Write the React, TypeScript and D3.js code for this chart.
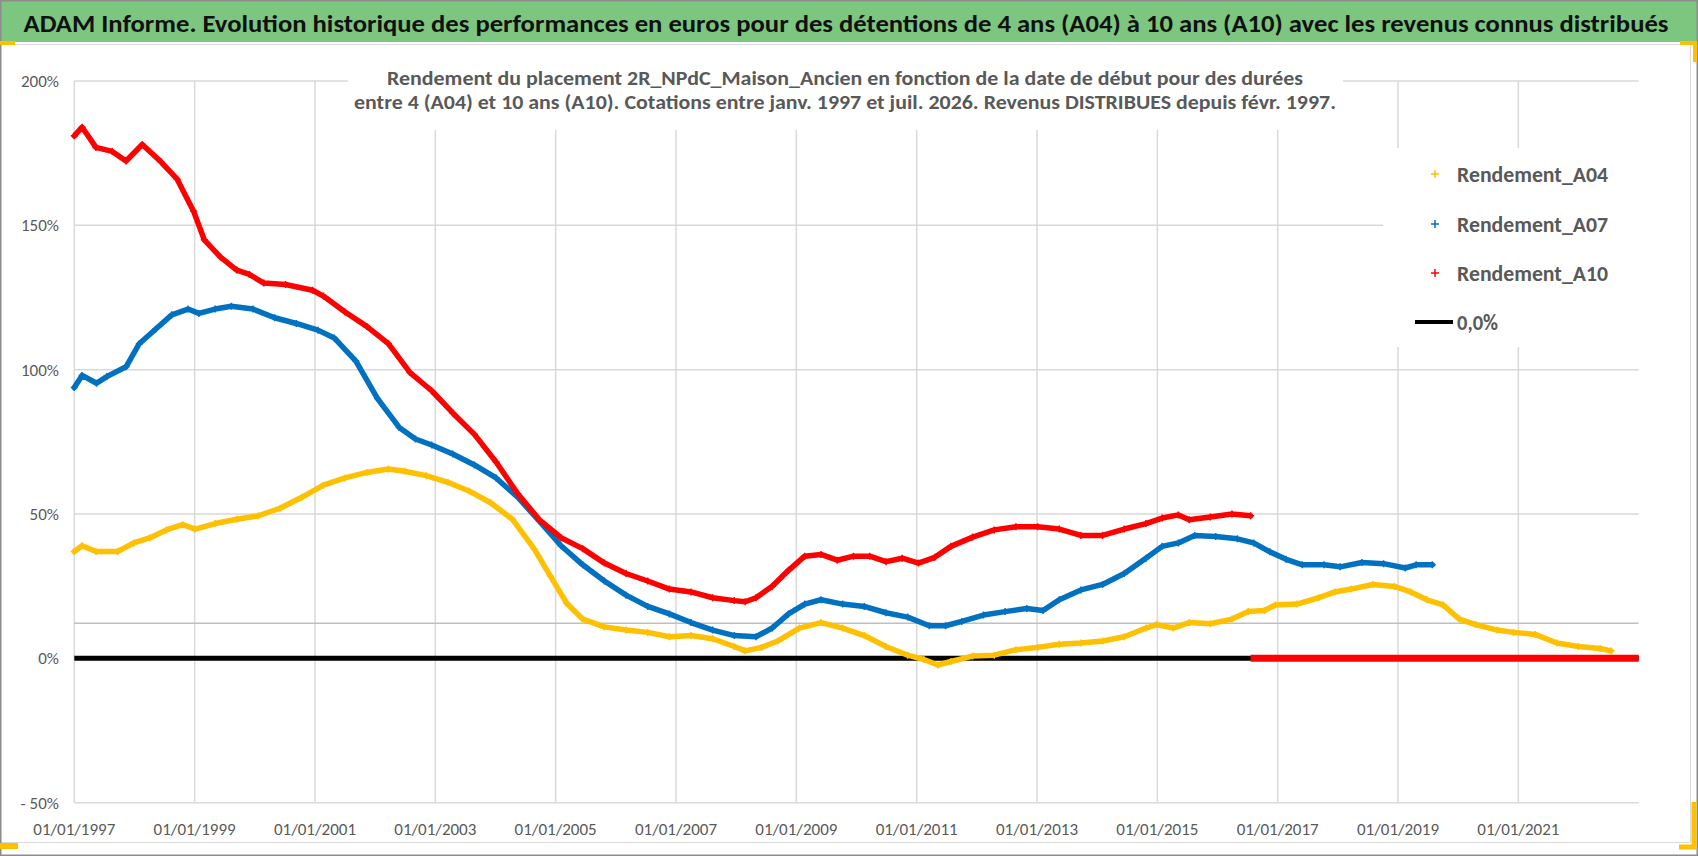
import React, { useEffect, useRef } from 'react';
import * as d3 from 'd3';

const WIDTH = 1698;
const HEIGHT = 856;

// x values are years since 01/01/1997, y values are in %
const a04Offsets = [0, 0.13, 0.36, 0.72, 0.99, 1.26, 1.53, 1.8, 2.01, 2.34, 2.7, 3.06, 3.42, 3.78, 4.14, 4.5, 4.86, 5.22, 5.49, 5.85, 6.21, 6.56, 6.92, 7.28, 7.64, 7.91, 8.18, 8.45, 8.81, 9.17, 9.53, 9.89, 10.25, 10.61, 10.97, 11.15, 11.42, 11.69, 12.05, 12.41, 12.77, 13.13, 13.49, 13.85, 14.12, 14.35, 14.57, 14.93, 15.29, 15.65, 16.01, 16.37, 16.73, 17.09, 17.45, 17.81, 17.99, 18.26, 18.53, 18.88, 19.24, 19.51, 19.78, 19.96, 20.32, 20.68, 20.95, 21.22, 21.58, 21.94, 22.21, 22.48, 22.75, 23.02, 23.29, 23.65, 23.92, 24.28, 24.64, 25.0, 25.36, 25.54];
const a04Values = [37, 39, 37, 37, 40, 41.8, 44.5, 46.3, 44.8, 46.7, 48.2, 49.4, 52, 55.8, 60, 62.5, 64.4, 65.6, 64.8, 63.3, 61, 58, 53.9, 48.2, 38, 28.6, 19.2, 13.6, 10.9, 9.8, 9, 7.5, 7.9, 6.8, 4.1, 2.6, 3.8, 6, 10.5, 12.4, 10.5, 7.9, 4.1, 1.1, -0.4, -2.3, -1.1, 0.8, 1.1, 3, 3.8, 4.9, 5.3, 6, 7.5, 10.5, 11.7, 10.5, 12.4, 12, 13.6, 16.2, 16.6, 18.5, 18.8, 21, 23, 24, 25.6, 24.9, 23, 20.3, 18.5, 13.6, 11.7, 9.8, 9, 8.3, 5.3, 4.1, 3.4, 2.6];

const a07Offsets = [0, 0.13, 0.37, 0.54, 0.86, 1.08, 1.35, 1.62, 1.89, 2.07, 2.34, 2.61, 2.97, 3.33, 3.69, 4.05, 4.32, 4.68, 5.04, 5.4, 5.67, 5.94, 6.29, 6.65, 7.01, 7.37, 7.73, 8.09, 8.45, 8.81, 9.17, 9.53, 9.89, 10.25, 10.61, 10.97, 11.33, 11.6, 11.87, 12.14, 12.41, 12.77, 13.13, 13.49, 13.85, 14.21, 14.48, 14.75, 15.11, 15.47, 15.83, 16.1, 16.37, 16.73, 17.09, 17.45, 17.81, 18.08, 18.35, 18.62, 18.97, 19.33, 19.6, 19.87, 20.14, 20.41, 20.77, 21.04, 21.4, 21.76, 22.12, 22.3, 22.57];
const a07Values = [93.8, 98, 95.3, 97.6, 101, 109, 114, 119, 121, 119.5, 121, 122, 121, 118, 116, 113.7, 111, 103, 90, 80, 76, 73.9, 70.8, 67, 62.5, 55.8, 47.5, 39, 32.4, 26.8, 21.9, 18, 15.4, 12.4, 9.8, 7.9, 7.5, 10.5, 15.4, 18.8, 20.3, 18.8, 18, 15.8, 14.3, 11.3, 11.3, 12.8, 15, 16.2, 17.3, 16.6, 20.3, 23.7, 25.6, 29.4, 34.7, 38.8, 40, 42.6, 42.2, 41.4, 40, 36.9, 34.3, 32.4, 32.4, 31.7, 33.2, 32.8, 31.3, 32.4, 32.4];

const a10Offsets = [0, 0.13, 0.36, 0.63, 0.86, 1.13, 1.44, 1.71, 1.98, 2.16, 2.43, 2.7, 2.91, 3.15, 3.51, 3.96, 4.14, 4.5, 4.86, 5.22, 5.58, 5.94, 6.29, 6.65, 7.01, 7.37, 7.73, 8.09, 8.45, 8.81, 9.17, 9.53, 9.89, 10.25, 10.61, 10.97, 11.15, 11.33, 11.6, 11.87, 12.14, 12.41, 12.68, 12.95, 13.22, 13.49, 13.76, 14.03, 14.3, 14.57, 14.93, 15.29, 15.65, 16.01, 16.37, 16.73, 17.09, 17.45, 17.81, 18.08, 18.35, 18.53, 18.88, 19.24, 19.55];
const a10Values = [181, 184, 177, 175.6, 172.3, 178, 172, 166, 155, 145, 139, 134.5, 133, 130, 129.5, 127.5, 125.5, 120, 115, 109, 99, 92.7, 85, 77.6, 68, 57, 48, 41.8, 38, 33, 29.4, 26.8, 24, 23, 21, 20, 19.6, 21, 25, 30.5, 35.4, 36, 34, 35.4, 35.4, 33.5, 34.7, 33, 35, 38.8, 42, 44.5, 45.6, 45.6, 44.8, 42.6, 42.6, 44.8, 46.7, 48.6, 49.7, 48, 49, 50, 49.4];
// A10 start dates with no known return yet are plotted at 0
const a10ZeroOffsets = [19.55, 26];
const a10ZeroValues = [0, 0];

const zeroLineOffsets = [0, 26];
const zeroLineValues = [0, 0];
const refLineValue = 12.2;

const xTickOffsets = [0, 2, 4, 6, 8, 10, 12, 14, 16, 18, 20, 22, 24];
const xTickLabels = xTickOffsets.map(o => `01/01/${1997 + o}`);
const yTicks = [200, 150, 100, 50, 0, -50];
const yTickLabels = ['200%', '150%', '100%', '50%', '0%', '- 50%'];

const seriesNames = ['Rendement_A04', 'Rendement_A07', 'Rendement_A10'];
const seriesColors = ['#FFC000', '#0070C0', '#FF0000'];

const title = 'ADAM Informe. Evolution historique des performances en euros pour des détentions de 4 ans (A04) à 10 ans (A10) avec les revenus connus distribués';
const subtitle1 = 'Rendement du placement 2R_NPdC_Maison_Ancien en fonction de la date de début pour des durées';
const subtitle2 = 'entre 4 (A04) et 10 ans (A10). Cotations entre janv. 1997 et juil. 2026. Revenus DISTRIBUES depuis févr. 1997.';

const FONT = "Carlito, 'Liberation Sans Narrow', 'DejaVu Sans Condensed', 'Open Sans', sans-serif";

const App: React.FC = () => {
  const svgRef = useRef<SVGSVGElement>(null);

  useEffect(() => {
    if (!svgRef.current) return;
    const svg = d3.select(svgRef.current);
    svg.selectAll('*').remove();

    const x = d3.scaleLinear().domain([0, 26]).range([74.3, 1638.7]);
    const y = d3.scaleLinear().domain([-50, 200]).range([802.7, 81]);

    // background and frame
    svg.append('rect').attr('width', WIDTH).attr('height', HEIGHT).attr('fill', '#fff');
    svg.append('rect')
      .attr('x', 0).attr('y', 0).attr('width', WIDTH).attr('height', 42)
      .attr('fill', '#7DC67F');
    svg.append('rect')
      .attr('x', 0.5).attr('y', 44.5).attr('width', 1690).attr('height', 798)
      .attr('fill', 'none').attr('stroke', '#d9d9d9');
    svg.append('rect')
      .attr('x', 0.75).attr('y', 0.75).attr('width', WIDTH - 1.5).attr('height', HEIGHT - 1.5)
      .attr('fill', 'none').attr('stroke', '#8c8c8c').attr('stroke-width', 1.5);

    svg.append('text')
      .attr('x', 846).attr('y', 32)
      .attr('text-anchor', 'middle')
      .attr('textLength', 1645).attr('lengthAdjust', 'spacingAndGlyphs')
      .style('font-family', FONT).style('font-size', '25px').style('font-weight', 'bold')
      .attr('fill', '#111')
      .text(title);

    // gridlines
    const g = svg.append('g');
    g.selectAll('line.hgrid')
      .data(yTicks)
      .enter()
      .append('line')
      .attr('x1', x(0)).attr('x2', x(26))
      .attr('y1', d => y(d)).attr('y2', d => y(d))
      .attr('stroke', '#d9d9d9').attr('stroke-width', 1.5);
    g.selectAll('line.vgrid')
      .data(xTickOffsets)
      .enter()
      .append('line')
      .attr('x1', d => x(d)).attr('x2', d => x(d))
      .attr('y1', y(200)).attr('y2', y(-50))
      .attr('stroke', '#d9d9d9').attr('stroke-width', 1.5);
    g.append('line')
      .attr('x1', x(0)).attr('x2', x(26))
      .attr('y1', y(refLineValue)).attr('y2', y(refLineValue))
      .attr('stroke', '#bfbfbf').attr('stroke-width', 1.5);

    // axis labels
    g.selectAll('text.ytick')
      .data(yTicks)
      .enter()
      .append('text')
      .attr('x', 59).attr('y', d => y(d) + 6)
      .attr('text-anchor', 'end')
      .style('font-family', FONT).style('font-size', '17px')
      .attr('fill', '#595959')
      .text((d, i) => yTickLabels[i]);
    g.selectAll('text.xtick')
      .data(xTickOffsets)
      .enter()
      .append('text')
      .attr('x', d => x(d)).attr('y', 835)
      .attr('text-anchor', 'middle')
      .style('font-family', FONT).style('font-size', '17px')
      .attr('fill', '#595959')
      .text((d, i) => xTickLabels[i]);

    // subtitle box
    svg.append('rect')
      .attr('x', 348).attr('y', 60).attr('width', 995).attr('height', 70)
      .attr('fill', '#fff');
    svg.append('text')
      .attr('x', 845).attr('y', 85)
      .attr('text-anchor', 'middle')
      .attr('textLength', 916).attr('lengthAdjust', 'spacingAndGlyphs')
      .style('font-family', FONT).style('font-size', '20px').style('font-weight', 'bold')
      .attr('fill', '#595959')
      .text(subtitle1);
    svg.append('text')
      .attr('x', 845).attr('y', 109)
      .attr('text-anchor', 'middle')
      .attr('textLength', 982).attr('lengthAdjust', 'spacingAndGlyphs')
      .style('font-family', FONT).style('font-size', '20px').style('font-weight', 'bold')
      .attr('fill', '#595959')
      .text(subtitle2);

    // series
    const line = d3.line<[number, number]>()
      .x(d => x(d[0]))
      .y(d => y(d[1]));
    const plus = 'M-3.5,0H3.5M0,-3.5V3.5';

    const zip = (xs: number[], ys: number[]) => xs.map((v, i) => [v, ys[i]] as [number, number]);

    svg.append('path')
      .attr('d', line(zip(zeroLineOffsets, zeroLineValues)))
      .attr('fill', 'none').attr('stroke', '#000').attr('stroke-width', 5);

    const series = [zip(a04Offsets, a04Values), zip(a07Offsets, a07Values), zip(a10Offsets, a10Values)];
    series.forEach((pts, i) => {
      svg.append('path')
        .attr('d', line(pts))
        .attr('fill', 'none')
        .attr('stroke', seriesColors[i])
        .attr('stroke-width', 5.5)
        .attr('stroke-linejoin', 'round')
        .attr('stroke-linecap', 'round');
      svg.append('g')
        .selectAll('path')
        .data(pts)
        .enter()
        .append('path')
        .attr('d', plus)
        .attr('transform', d => `translate(${x(d[0])},${y(d[1])})`)
        .attr('stroke', seriesColors[i])
        .attr('stroke-width', 1.5);
    });

    svg.append('path')
      .attr('d', line(zip(a10ZeroOffsets, a10ZeroValues)))
      .attr('fill', 'none').attr('stroke', seriesColors[2]).attr('stroke-width', 7);

    // legend
    const legend = svg.append('g');
    legend.append('rect')
      .attr('x', 1383).attr('y', 148).attr('width', 257).attr('height', 199)
      .attr('fill', '#fff');
    const rowY = [174, 224, 273];
    seriesNames.forEach((name, i) => {
      legend.append('path')
        .attr('d', 'M-4,0H4M0,-4V4')
        .attr('transform', `translate(1435,${rowY[i]})`)
        .attr('stroke', seriesColors[i])
        .attr('stroke-width', 1.5);
      legend.append('text')
        .attr('x', 1457).attr('y', rowY[i] + 8)
        .attr('textLength', 151).attr('lengthAdjust', 'spacingAndGlyphs')
        .style('font-family', FONT).style('font-size', '22px').style('font-weight', 'bold')
        .attr('fill', '#595959')
        .text(name);
    });
    legend.append('line')
      .attr('x1', 1415).attr('x2', 1453).attr('y1', 322).attr('y2', 322)
      .attr('stroke', '#000').attr('stroke-width', 4);
    legend.append('text')
      .attr('x', 1457).attr('y', 330)
      .attr('textLength', 41).attr('lengthAdjust', 'spacingAndGlyphs')
      .style('font-family', FONT).style('font-size', '22px').style('font-weight', 'bold')
      .attr('fill', '#595959')
      .text('0,0%');

    // selection handles
    const handle = '#FFC000';
    svg.append('rect').attr('x', 0).attr('y', 41).attr('width', 15).attr('height', 4).attr('fill', handle);
    svg.append('path').attr('d', 'M1680,43H1695V62').attr('fill', 'none').attr('stroke', handle).attr('stroke-width', 4);
    svg.append('rect').attr('x', 0).attr('y', 843).attr('width', 18).attr('height', 6).attr('fill', handle);
    svg.append('path').attr('d', 'M1679,847H1694V802').attr('fill', 'none').attr('stroke', handle).attr('stroke-width', 5);
  }, []);

  return (
    <svg
      ref={svgRef}
      width={WIDTH}
      height={HEIGHT}
      style={{ position: 'absolute', left: 0, top: 0 }}
    />
  );
};

export default App;
